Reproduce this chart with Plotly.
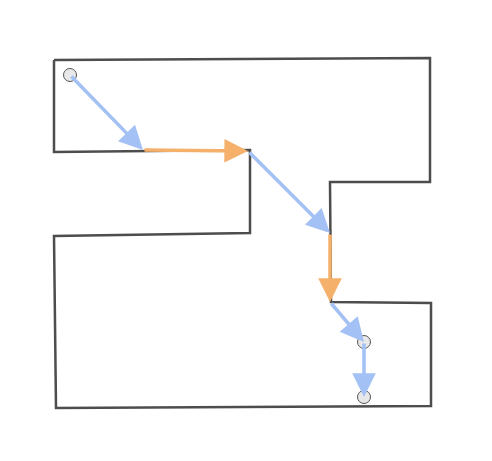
import plotly.graph_objects as go

# outline of the region (pixel-like coords, y down)
wall_x = [54, 430, 430, 330, 331, 431, 431, 56, 54, 250, 250, 54, 54]
wall_y = [60, 58, 182, 182, 302, 303, 406, 408, 236, 233, 150, 152, 60]

# path segments: start, end, colour
seg_x0 = [70, 143, 248, 330, 330, 364]
seg_y0 = [75, 150, 151, 233, 302, 342]
seg_x1 = [143, 248, 330, 330, 364, 364]
seg_y1 = [150, 151, 233, 302, 342, 397]
seg_kind = ["b", "o", "b", "o", "b", "b"]

node_x = [70, 364, 364]
node_y = [75, 342, 397]

colors = {"b": "#a3c1f4", "o": "#f5b06b"}

fig = go.Figure()
fig.add_trace(go.Scatter(x=wall_x, y=wall_y, mode="lines",
                         line=dict(color="#4d4d4d", width=2.5), hoverinfo="skip"))

for x0, y0, x1, y1, k in zip(seg_x0, seg_y0, seg_x1, seg_y1, seg_kind):
    fig.add_annotation(x=x1, y=y1, ax=x0, ay=y0, xref="x", yref="y",
                       axref="x", ayref="y", showarrow=True, text="",
                       arrowhead=2, arrowsize=1.35, arrowwidth=3.5,
                       arrowcolor=colors[k])

fig.add_trace(go.Scatter(x=node_x, y=node_y, mode="markers",
                         marker=dict(size=13, color="#e8e8e8",
                                     line=dict(color="#555", width=1)),
                         hoverinfo="skip"))

# page body adds ~8px offset, so shift the view to compensate
fig.update_xaxes(range=[8, 500], visible=False)
fig.update_yaxes(range=[469, 8], visible=False)
fig.update_layout(width=492, height=461, margin=dict(l=0, r=0, t=0, b=0),
                  plot_bgcolor="white", paper_bgcolor="white", showlegend=False)
fig.write_html("out.html")
